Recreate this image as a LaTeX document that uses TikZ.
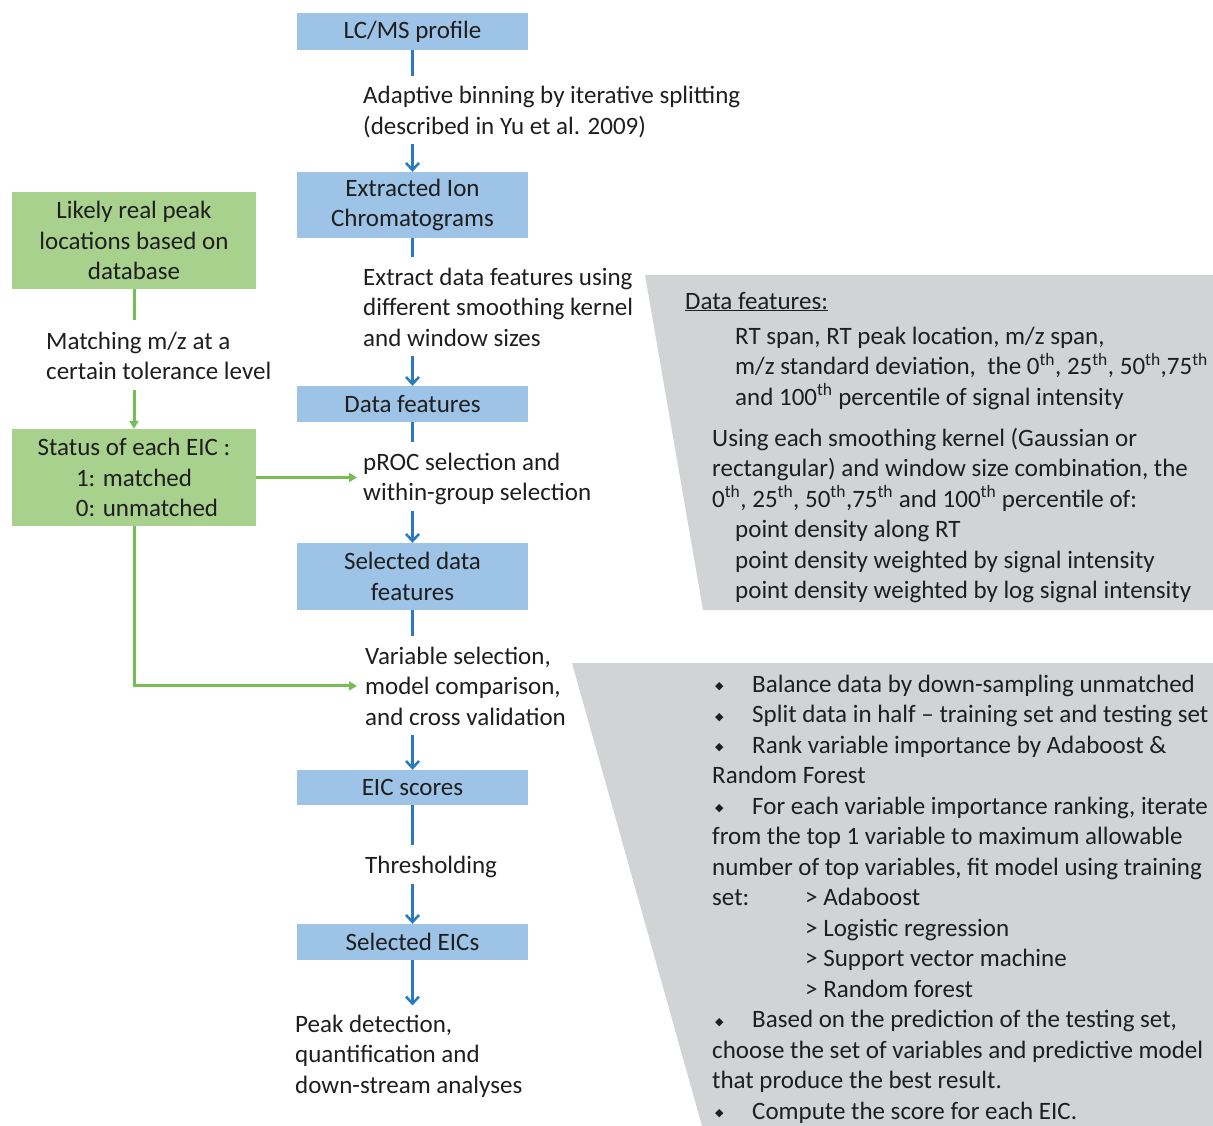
\documentclass[tikz,border=0pt]{standalone}
\usepackage{fontspec}
\setmainfont{Carlito}
\newfontfamily\dejavu{DejaVu Sans}
\usetikzlibrary{arrows.meta,calc}
\definecolor{boxblue}{RGB}{157,195,230}
\definecolor{boxgreen}{RGB}{169,209,142}
\definecolor{lineblue}{RGB}{41,121,196}
\definecolor{linegreen}{RGB}{118,190,84}
\definecolor{panelgray}{RGB}{209,211,212}
\definecolor{txt}{RGB}{30,30,30}
\newcommand{\blt}{\makebox[40pt][l]{\hspace{3pt}\raisebox{2.5pt}{\dejavu\fontsize{11}{11}\selectfont ◆}}}
\newcommand{\sth}{\textsuperscript{th}}
\begin{document}
\begin{tikzpicture}[x=1pt,y=-1pt,
  font=\fontsize{25}{30.5}\selectfont, text=txt,
  bluebox/.style={fill=boxblue, minimum width=231pt, inner sep=0pt, align=center},
  greenbox/.style={fill=boxgreen, minimum width=244pt, minimum height=97pt, inner sep=0pt, align=center},
  lbl/.style={anchor=base west, align=left, inner sep=0pt},
  bline/.style={draw=lineblue, line width=2.8pt},
  barrow/.style={bline, -{Straight Barb[length=7pt,width=13pt,line width=2.5pt]}},
  gline/.style={draw=linegreen, line width=3pt},
  garrow/.style={gline, -{Triangle[length=8pt,width=9pt]}},
  panel/.style={fill=panelgray, draw=none}
]
\useasboundingbox (0,0) rectangle (1213,1126);
% gray panels
\fill[panel] (645,275) -- (1213,275) -- (1213,610) -- (703,610) -- cycle;
\fill[panel] (572,663) -- (1213,663) -- (1213,1126) -- (702,1126) -- cycle;

% blue boxes
\node[bluebox, minimum height=37pt] (lcms) at (412.5,31.5) {\raisebox{-2pt}{LC/MS profile}};
\node[bluebox, minimum height=66pt] (eic) at (412.5,205) {Extracted Ion\\Chromatograms};
\node[bluebox, minimum height=36pt] (df) at (412.5,404) {\raisebox{-1.5pt}{Data features}};
\node[bluebox, minimum height=67pt] (sdf) at (412.5,576.5) {Selected data\\features};
\node[bluebox, minimum height=35pt] (scores) at (412.5,787.5) {\raisebox{-1.5pt}{EIC scores}};
\node[bluebox, minimum height=36pt] (sel) at (412.5,942) {\raisebox{-1.5pt}{Selected EICs}};

% green boxes
\node[greenbox] (g1) at (134,240.5) {Likely real peak\\locations based on\\database};
\node[greenbox] (g2) at (134,477.5) {Status of each EIC :\\1: matched\\\hspace*{26pt}0: unmatched};

% step labels (anchor = baseline of last line)
\node[lbl] (t1) at (363,134.5) {Adaptive binning by iterative splitting\\(described in Yu et al. 2009)};
\node[lbl] (t2) at (363,346) {Extract data features using\\different smoothing kernel\\and window sizes};
\node[lbl] (t3) at (363,500.5) {pROC selection and\\within-group selection};
\node[lbl] (t4) at (365,725) {Variable selection,\\model comparison,\\and cross validation};
\node[lbl] (t5) at (365,873) {Thresholding};
\node[lbl] (t6) at (295,1093) {Peak detection,\\quantification and\\down-stream analyses};
\node[lbl] (gt) at (46,379.5) {Matching m/z at a\\certain tolerance level};

% panel texts
\node[lbl] (dft) at (685,309) {\underline{Data features:}};
\node[lbl] (dfa) at (735,405) {RT span, RT peak location, m/z span,\\m/z standard deviation,\ \ the 0\sth, 25\sth, 50\sth,75\sth\\and 100\sth{} percentile of signal intensity};
\node[lbl] (dfb) at (712,598.5) {Using each smoothing kernel (Gaussian or\\rectangular) and window size combination, the\\0\sth, 25\sth, 50\sth,75\sth{} and 100\sth{} percentile of:\\\hspace*{23pt}point density along RT\\\hspace*{23pt}point density weighted by signal intensity\\\hspace*{23pt}point density weighted by log signal intensity};
\node[lbl] (mdl) at (712,1119) {\blt Balance data by down-sampling unmatched\\\blt Split data in half -- training set and testing set\\\blt Rank variable importance by Adaboost \&\\Random Forest\\\blt For each variable importance ranking, iterate\\from the top 1 variable to maximum allowable\\number of top variables, fit model using training\\\makebox[93pt][l]{set:}> Adaboost\\\hspace*{93pt}> Logistic regression\\\hspace*{93pt}> Support vector machine\\\hspace*{93pt}> Random forest\\\blt Based on the prediction of the testing set,\\choose the set of variables and predictive model\\that produce the best result.\\\blt Compute the score for each EIC.};

% blue connectors
\draw[bline, shorten >=10pt] (lcms.south) -- (lcms.south |- t1.north);
\draw[barrow, shorten <=6pt] (lcms.south |- t1.south) -- (eic.north);
\draw[bline, shorten >=10pt] (eic.south) -- (eic.south |- t2.north);
\draw[barrow, shorten <=10pt] (eic.south |- t2.south) -- (df.north);
\draw[bline, shorten >=10pt] (df.south) -- (df.south |- t3.north);
\draw[barrow, shorten <=6pt] (df.south |- t3.south) -- (sdf.north);
\draw[bline, shorten >=10pt] (sdf.south) -- (sdf.south |- t4.north);
\draw[barrow, shorten <=10pt] (sdf.south |- t4.south) -- (scores.north);
\draw[bline, shorten >=10pt] (scores.south) -- (scores.south |- t5.north);
\draw[barrow, shorten <=6pt] (scores.south |- t5.south) -- (sel.north);
\draw[barrow, shorten >=9pt] (sel.south) -- (sel.south |- t6.north);

% green connectors
\draw[gline, shorten >=11pt] (g1.south) -- (g1.south |- gt.north);
\draw[garrow, shorten <=10pt] (g1.south |- gt.south) -- (g2.north);
\draw[garrow, shorten >=6pt] (g2.east) -- (g2.east -| t3.west);
\draw[garrow, shorten >=8pt] (g2.south) |- (t4.west);
\end{tikzpicture}
\end{document}
